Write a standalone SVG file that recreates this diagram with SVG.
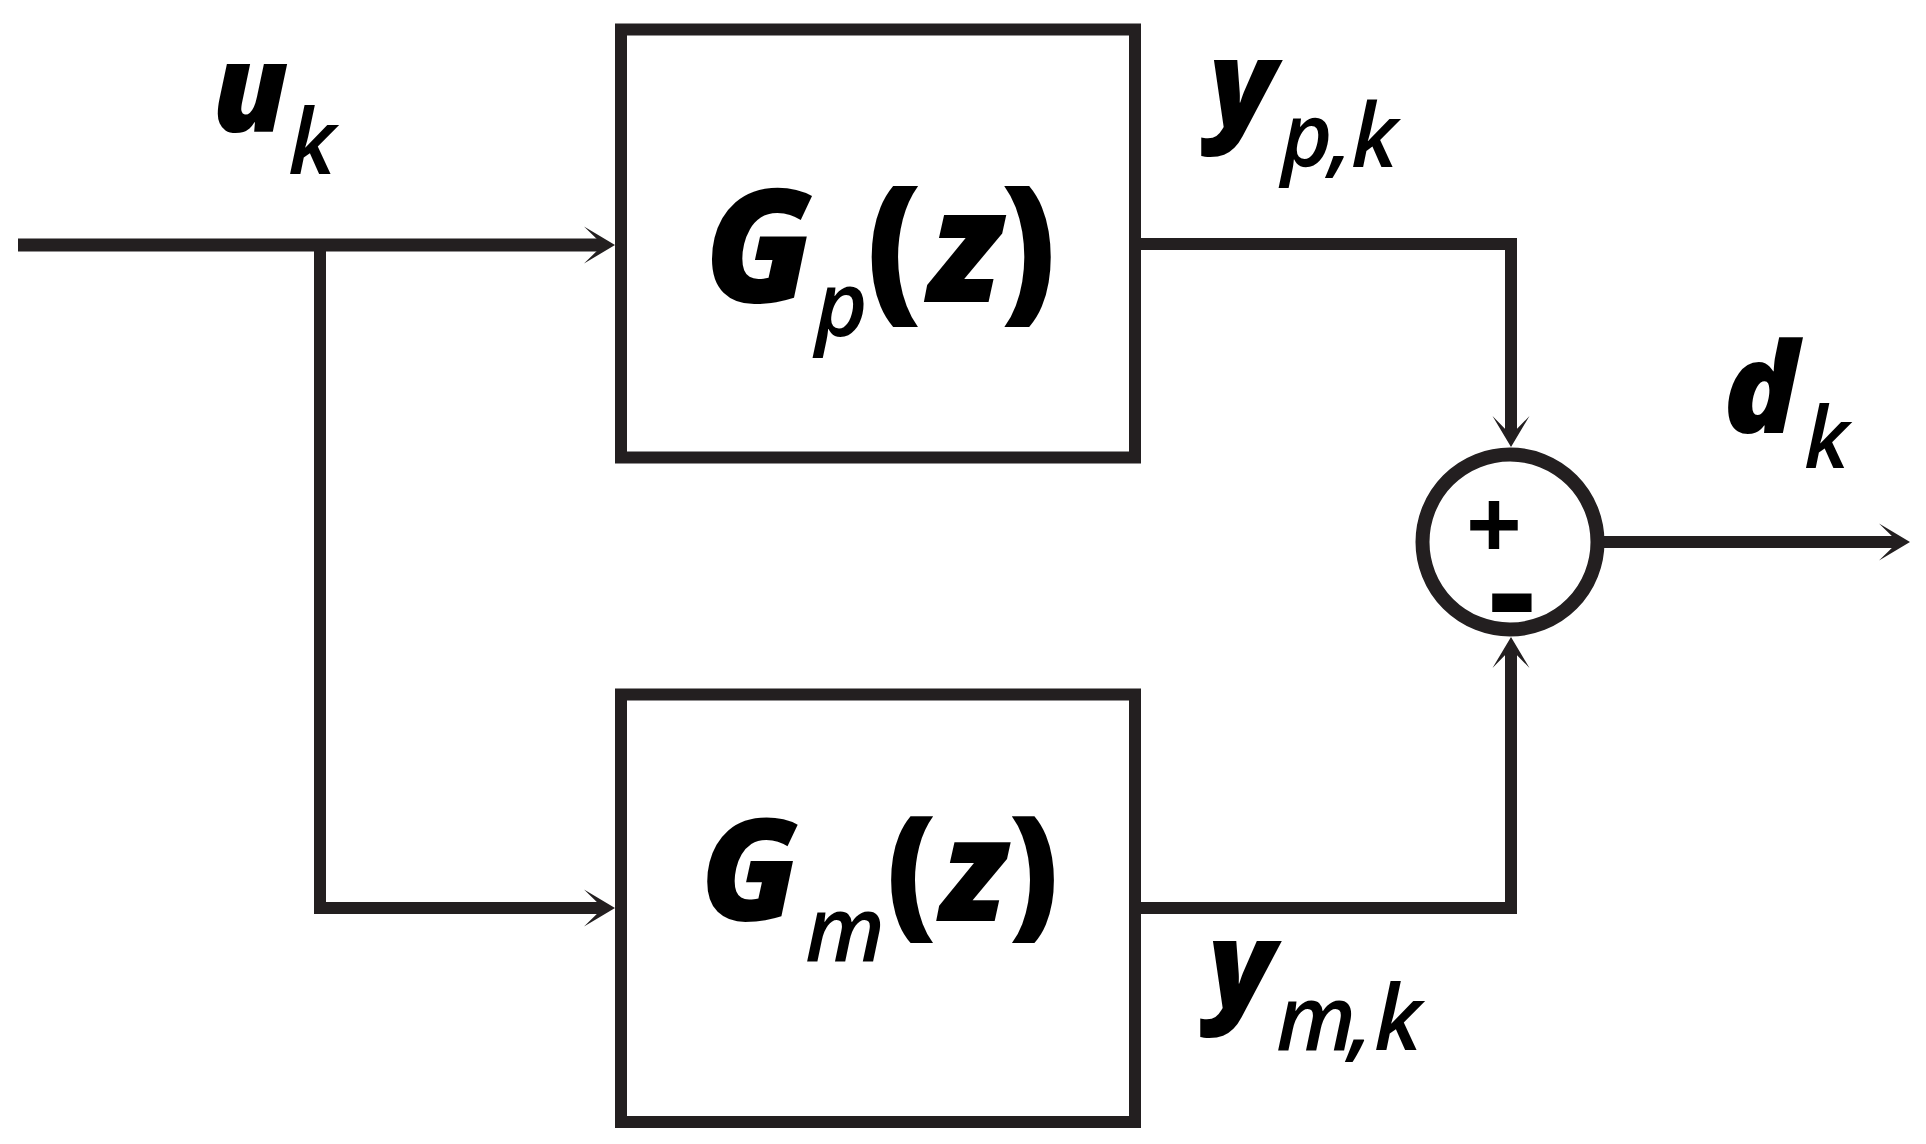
<svg xmlns="http://www.w3.org/2000/svg" width="1926" height="1144" viewBox="0 0 1926 1144">
<style>
.box{fill:#fff;stroke:#231f20;stroke-width:12}
.ln{fill:none;stroke:#231f20;stroke-width:12;stroke-linejoin:miter}
.lbl{font-family:"Open Sans","Noto Sans",sans-serif;font-style:italic;fill:#000}
.big{font-weight:800}
.sub{font-weight:600}
.par{font-weight:800;font-style:normal}
.sym{font-family:"Open Sans","Noto Sans",sans-serif;font-weight:700;fill:#000}
</style>
<defs>
<marker id="arr" markerUnits="userSpaceOnUse" viewBox="-20 -20 34 40" refX="0" refY="0" markerWidth="34" markerHeight="40" orient="auto" overflow="visible">
<path d="M12,0 L-19,-18.5 L0,0 L-19,18.5 Z" fill="#231f20"/>
</marker>
</defs>
<rect width="1926" height="1144" fill="#fff"/>
<g id="connectors">
<path class="ln" d="M18,245 H603" style="stroke-width:13" marker-end="url(#arr)"/>
<path class="ln" d="M320,245 V908 H603" marker-end="url(#arr)"/>
<path class="ln" d="M1135,244 H1511 V435" marker-end="url(#arr)"/>
<path class="ln" d="M1135,908 H1511 V649" marker-end="url(#arr)"/>
<path class="ln" d="M1600,542 H1898" marker-end="url(#arr)"/>
</g>
<g id="node-gp">
<rect class="box" x="621" y="29.5" width="514" height="428"/>
<text class="lbl"><tspan class="big" x="704" y="302" font-size="157">G</tspan><tspan class="sub" x="815" y="336" font-size="90">p</tspan><tspan class="par" x="866" y="302" font-size="157">(</tspan><tspan class="big" x="927" y="302" font-size="157">z</tspan><tspan class="par" x="1000" y="302" font-size="157">)</tspan></text>
</g>
<g id="node-gm">
<rect class="box" x="621" y="694.5" width="514" height="427.5"/>
<text class="lbl"><tspan class="big" x="700" y="921" font-size="142">G</tspan><tspan class="sub" x="805" y="961" font-size="90">m</tspan><tspan class="par" x="886" y="921" font-size="142">(</tspan><tspan class="big" x="939" y="921" font-size="142">z</tspan><tspan class="par" x="1008" y="921" font-size="142">)</tspan></text>
</g>
<g id="node-sum">
<circle cx="1510" cy="542" r="87.5" fill="#fff" stroke="#231f20" stroke-width="14"/>
<text class="sym" text-anchor="middle"><tspan x="1494" y="560" font-size="98">+</tspan><tspan x="1512" y="643" font-size="150">-</tspan></text>
</g>
<g id="labels">
<text id="label-u" class="lbl"><tspan class="big" x="212" y="132" font-size="123">u</tspan><tspan class="sub" x="288" y="174" font-size="90">k</tspan></text>
<text id="label-yp" class="lbl"><tspan class="big" x="1209" y="128" font-size="123">y</tspan><tspan class="sub" x="1281" y="167" font-size="88">p</tspan><tspan class="sub" x="1329" y="167" font-size="88">,</tspan><tspan class="sub" x="1351" y="167" font-size="88">k</tspan></text>
<text id="label-d" class="lbl"><tspan class="big" x="1723" y="433" font-size="125">d</tspan><tspan class="sub" x="1804" y="468" font-size="85">k</tspan></text>
<text id="label-ym" class="lbl"><tspan class="big" x="1208" y="1009" font-size="123">y</tspan><tspan class="sub" x="1276" y="1050" font-size="90">m</tspan><tspan class="sub" x="1349" y="1050" font-size="90">,</tspan><tspan class="sub" x="1374" y="1050" font-size="90">k</tspan></text>
</g>
</svg>
